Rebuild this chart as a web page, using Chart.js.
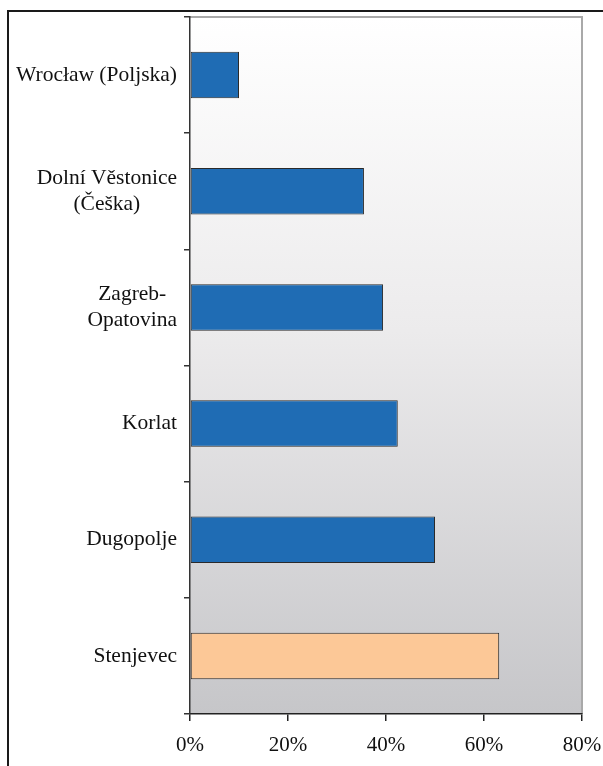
<!DOCTYPE html>
<html>
<head>
<meta charset="utf-8">
<script src="https://cdn.jsdelivr.net/npm/chart.js@4/dist/chart.umd.min.js"></script>
<style>
  html, body { margin: 0; padding: 0; background: #fff; overflow: hidden; }
  #okvir { position: absolute; left: 7px; top: 10px; width: 700px; height: 800px;
           border-left: 2px solid #1a1a1a; border-top: 2px solid #1a1a1a; }
  #wrap { position: absolute; left: 0; top: 0; width: 603px; height: 766px; }
</style>
</head>
<body>
<div id="okvir"></div>
<div id="wrap"><canvas id="grafica"></canvas></div>
<script>
const lokaliteti = [
  ["Wrocław (Poljska)"],
  ["Dolní Věstonice", "(Češka)"],
  ["Zagreb-", "Opatovina"],
  ["Korlat"],
  ["Dugopolje"],
  ["Stenjevec"]
];
const postoci = [10, 35.5, 39.4, 42.4, 50, 63.1];
const bojeStupaca = ["#1f6cb4", "#1f6cb4", "#1f6cb4", "#1f6cb4", "#1f6cb4", "#fcc897"];
const xOznake = [0, 20, 40, 60, 80];

const FONT = '"Liberation Serif", "Times New Roman", serif';

// pozadina grafa: gradijent od bijele prema sivoj + sivi rub gore i desno
const pozadina = {
  id: 'pozadina',
  beforeDraw(chart) {
    const { ctx, chartArea: a } = chart;
    const g = ctx.createLinearGradient(0, a.top, 0, a.bottom);
    g.addColorStop(0, '#ffffff');
    g.addColorStop(0.45, '#ecebec');
    g.addColorStop(1, '#c6c6c9');
    ctx.save();
    ctx.fillStyle = g;
    ctx.fillRect(a.left, a.top, a.right - a.left, a.bottom - a.top);
    ctx.strokeStyle = '#a9a9a9';
    ctx.lineWidth = 2;
    ctx.beginPath();
    ctx.moveTo(a.left, a.top);
    ctx.lineTo(a.right, a.top);
    ctx.lineTo(a.right, a.bottom);
    ctx.stroke();
    ctx.restore();
  }
};

// oznake na y osi: poravnate desno, retci centrirani međusobno
const yOznake = {
  id: 'yOznake',
  afterDraw(chart) {
    const { ctx } = chart;
    const y = chart.scales.y;
    ctx.save();
    ctx.font = '21.5px ' + FONT;
    ctx.fillStyle = '#111';
    ctx.textAlign = 'center';
    ctx.textBaseline = 'middle';
    const desno = y.right - 13;
    const razmak = 26;
    lokaliteti.forEach((retci, i) => {
      const sredina = y.getPixelForValue(i);
      const sirina = Math.max(...retci.map(r => ctx.measureText(r).width));
      const cx = desno - sirina / 2;
      const pocetak = sredina - (retci.length - 1) * razmak / 2;
      retci.forEach((r, j) => ctx.fillText(r, cx, pocetak + j * razmak));
    });
    ctx.restore();
  }
};

const ctx = document.getElementById('grafica').getContext('2d');
new Chart(ctx, {
  type: 'bar',
  data: {
    labels: lokaliteti,
    datasets: [{
      data: postoci,
      backgroundColor: bojeStupaca,
      borderColor: '#2a2a2a',
      borderWidth: 1,
      borderSkipped: false,
      barPercentage: 0.4,
      categoryPercentage: 1
    }]
  },
  options: {
    indexAxis: 'y',
    responsive: true,
    maintainAspectRatio: false,
    animation: false,
    layout: { padding: { top: 17, right: 21, left: 0, bottom: 0 } },
    plugins: {
      legend: { display: false },
      tooltip: { enabled: false }
    },
    scales: {
      x: {
        min: 0,
        max: 80,
        afterBuildTicks: (s) => { s.ticks = xOznake.map(v => ({ value: v })); },
        afterFit: (s) => { s.height = 52; s.paddingLeft = 0; s.paddingRight = 0; },
        ticks: {
          callback: (v) => v + '%',
          font: { family: FONT, size: 21 },
          color: '#111',
          padding: 12,
          maxRotation: 0
        },
        grid: { drawOnChartArea: false, tickLength: 7, color: '#222', lineWidth: 1.5 },
        border: { display: true, color: '#222', width: 1.5 }
      },
      y: {
        afterFit: (s) => { s.width = 190; },
        ticks: { display: false },
        grid: { drawOnChartArea: false, offset: true, tickLength: 6, color: '#333', lineWidth: 1.5 },
        border: { display: true, color: '#333', width: 1.5 }
      }
    }
  },
  plugins: [pozadina, yOznake]
});
</script>
</body>
</html>
